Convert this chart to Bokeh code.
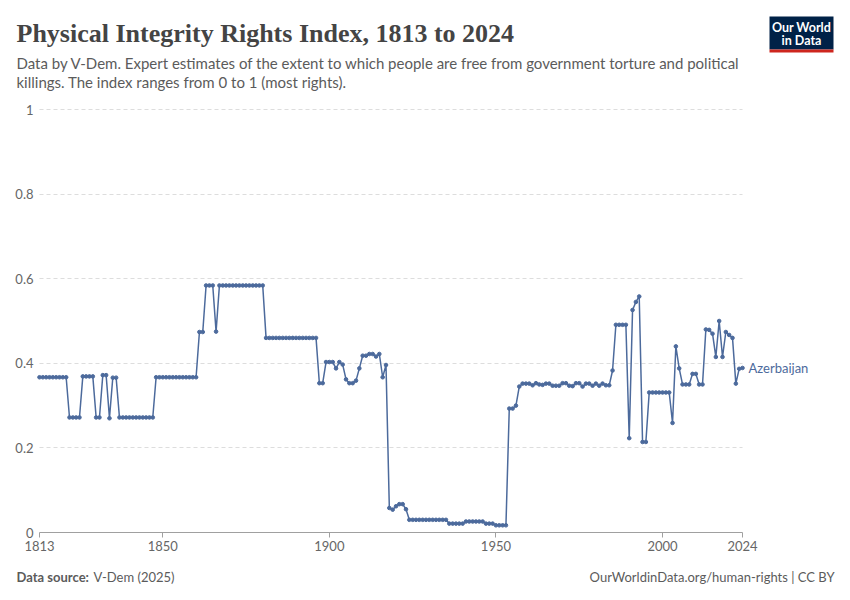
from bokeh.plotting import figure
from bokeh.models import (FixedTicker, NumeralTickFormatter, ColumnDataSource,
                          Range1d, Grid)
from bokeh.core.properties import value
from bokeh.embed import file_html
from bokeh.resources import INLINE

# ---------------- data ----------------
country = "Azerbaijan"
years = list(range(1813, 2025))
values = (
    [0.367] * 9 + [0.272] * 4 + [0.369] * 4 + [0.272] * 2 + [0.372] * 2 + [0.270]
    + [0.366] * 2 + [0.272] * 11 + [0.367] * 13                      # 1813-1860
    + [0.474] * 2 + [0.584] * 3 + [0.475] + [0.584] * 14              # 1861-1880
    + [0.460] * 16                                                    # 1881-1896
    + [0.353, 0.353, 0.403, 0.403, 0.403, 0.388, 0.403, 0.397, 0.362,
       0.353, 0.353, 0.359, 0.388, 0.418, 0.418, 0.422, 0.422, 0.416,
       0.422, 0.367, 0.396, 0.058, 0.054, 0.062, 0.067, 0.067, 0.055]  # 1897-1923
    + [0.030] * 12 + [0.021] * 5 + [0.026] * 6 + [0.021] * 3 + [0.017] * 4  # 1924-1953
    + [0.293, 0.293, 0.300, 0.345]                                    # 1954-1957
    + [0.352, 0.352, 0.352, 0.348, 0.353, 0.350, 0.349, 0.352, 0.352,
       0.347, 0.347, 0.347, 0.353, 0.353, 0.347, 0.346, 0.353, 0.353,
       0.345, 0.352, 0.352, 0.347, 0.352, 0.347, 0.352, 0.348, 0.348]  # 1958-1984
    + [0.383, 0.491, 0.491, 0.491, 0.491, 0.223, 0.526, 0.545, 0.558,
       0.214, 0.214] + [0.331] * 7                                    # 1985-2002
    + [0.259, 0.440, 0.388, 0.350, 0.350, 0.350, 0.375, 0.375, 0.350,
       0.350, 0.480, 0.479, 0.470, 0.415, 0.500, 0.415, 0.474, 0.467,
       0.460, 0.352, 0.387, 0.389]                                    # 2003-2024
)
assert len(values) == len(years)
x_ticks = [1813, 1850, 1900, 1950, 2000, 2024]
y_ticks = [0, 0.2, 0.4, 0.6, 0.8, 1.0]
grid_ticks = [0.2, 0.4, 0.6, 0.8, 1.0]

title = "Physical Integrity Rights Index, 1813 to 2024"
subtitle1 = ("Data by V-Dem. Expert estimates of the extent to which people are "
             "free from government torture and political")
subtitle2 = "killings. The index ranges from 0 to 1 (most rights)."
source_bold = "Data source:"
source_rest = "V-Dem (2025)"
footer_right = "OurWorldinData.org/human-rights | CC BY"
logo_lines = ["Our World", "in Data"]

# ---------------- layout constants (page px) ----------------
W, H = 842, 592
PLOT_LEFT, PLOT_RIGHT = 39, 742      # px of first / last year
PLOT_TOP, PLOT_BOTTOM = 109, 532     # px of value 1 / value 0

TXT = "#5b5b5b"
LINE = "#4c6a9c"

# data ranges chosen so that the whole canvas is the frame
ppx = (PLOT_RIGHT - PLOT_LEFT) / (x_ticks[-1] - x_ticks[0])
ppy = (PLOT_BOTTOM - PLOT_TOP) / (y_ticks[-1] - y_ticks[0])
x_rng = Range1d(x_ticks[0] - PLOT_LEFT / ppx, x_ticks[0] + (W - PLOT_LEFT) / ppx)
y_rng = Range1d(y_ticks[0] - (H - PLOT_BOTTOM) / ppy, y_ticks[-1] + PLOT_TOP / ppy)

p = figure(width=W, height=H, output_backend="svg", toolbar_location=None,
           x_range=x_rng, y_range=y_rng, min_border=0)
p.extra_x_ranges = {"page": Range1d(0, W)}
p.extra_y_ranges = {"page": Range1d(H, 0)}
p.outline_line_color = None
p.background_fill_color = "white"
p.border_fill_color = "white"

# ---------------- axes ----------------
p.xaxis.fixed_location = y_ticks[0]
p.xaxis.ticker = FixedTicker(ticks=x_ticks)
p.xaxis.bounds = (x_ticks[0], x_ticks[-1])
p.xaxis.axis_line_color = "#a0a0a0"
p.xaxis.major_tick_line_color = "#a0a0a0"
p.xaxis.major_tick_in = 0
p.xaxis.major_tick_out = 5
p.xaxis.minor_tick_line_color = None
p.xaxis.major_label_text_font = "Lato"
p.xaxis.major_label_text_font_size = "13px"
p.xaxis.major_label_text_color = "#666666"
p.xaxis.major_label_standoff = 3

p.yaxis.fixed_location = x_ticks[0]
p.yaxis.ticker = FixedTicker(ticks=y_ticks)
p.yaxis.formatter = NumeralTickFormatter(format="0.[0]")
p.yaxis.axis_line_color = None
p.yaxis.major_tick_line_color = None
p.yaxis.minor_tick_line_color = None
p.yaxis.major_tick_out = 0
p.yaxis.major_tick_in = 0
p.yaxis.major_label_standoff = 6
p.yaxis.major_label_text_font = "Lato"
p.yaxis.major_label_text_font_size = "13px"
p.yaxis.major_label_text_color = "#666666"

p.xgrid.grid_line_color = None
if "cross_bounds" in Grid.properties():
    p.ygrid.ticker = FixedTicker(ticks=grid_ticks)
    p.ygrid.cross_bounds = (x_ticks[0], x_ticks[-1])
    p.ygrid.grid_line_color = "#dddddd"
    p.ygrid.grid_line_dash = "4 3"
else:
    p.ygrid.grid_line_color = None
    p.segment(x0=[x_ticks[0]] * len(grid_ticks), x1=[x_ticks[-1]] * len(grid_ticks),
              y0=grid_ticks, y1=grid_ticks, line_color="#dddddd",
              line_dash="4 3", line_width=1, level="underlay")

# ---------------- series ----------------
src = ColumnDataSource(dict(x=years, y=values))
p.line("x", "y", source=src, line_color=LINE, line_width=1.5)
p.scatter("x", "y", source=src, size=3.6, fill_color=LINE, line_color=LINE)
p.text(x=[years[-1]], y=[values[-1]], text=[country], x_offset=6,
       text_font=value("Lato"), text_font_size="13px", text_color=LINE,
       text_baseline="middle")

# ---------------- header (page coordinates) ----------------
pg = dict(x_range_name="page", y_range_name="page")
p.text(x=[16], y=[33], text=[title], text_font=value("Liberation Serif"),
       text_font_size="26px", text_font_style="bold", text_color="#444444",
       text_baseline="middle", **pg)
p.text(x=[16, 16], y=[62, 81], text=[subtitle1, subtitle2],
       text_font=value("Lato"), text_font_size="15px", text_color=TXT,
       text_baseline="middle", **pg)
p.quad(left=[769], right=[833], top=[16], bottom=[49], fill_color="#002147",
       line_color=None, **pg)
p.quad(left=[769], right=[833], top=[49], bottom=[52], fill_color="#ce261e",
       line_color=None, **pg)
p.text(x=[801, 801], y=[27, 39.5], text=logo_lines,
       text_font=value("Lato"), text_font_size="12.5px",
       text_font_style="bold", text_color="white", text_align="center",
       text_baseline="middle", **pg)

# ---------------- footer (page coordinates) ----------------
p.text(x=[16], y=[576], text=[source_bold], text_font=value("Lato"),
       text_font_size="13px", text_font_style="bold", text_color=TXT,
       text_baseline="middle", **pg)
p.text(x=[93], y=[576], text=[source_rest], text_font=value("Lato"),
       text_font_size="13px", text_color=TXT, text_baseline="middle", **pg)
p.text(x=[834], y=[576], text=[footer_right], text_font=value("Lato"),
       text_font_size="13px", text_color=TXT, text_align="right",
       text_baseline="middle", **pg)

open("out.html", "w").write(file_html(p, INLINE))
